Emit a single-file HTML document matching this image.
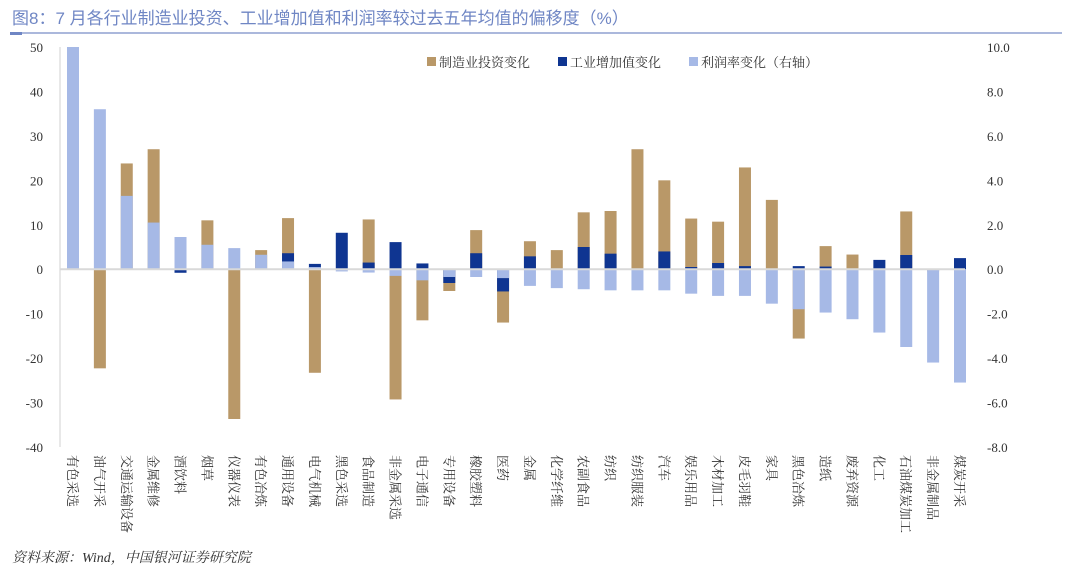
<!DOCTYPE html>
<html><head><meta charset="utf-8"><style>
body{margin:0;background:#fff;width:1080px;height:570px;overflow:hidden;font-family:"Liberation Serif","Noto Serif CJK SC",serif;}
</style></head><body>
<svg width="1080" height="570" xmlns="http://www.w3.org/2000/svg">
<text x="12" y="24" font-size="17" fill="#6f86c4" font-family="Liberation Sans, Noto Sans CJK SC, sans-serif">图8：7 月各行业制造业投资、工业增加值和利润率较过去五年均值的偏移度（%）</text>
<line x1="10" y1="33" x2="1062" y2="33" stroke="#8fa0d0" stroke-width="1.5"/>
<rect x="10" y="32" width="12" height="3" fill="#6f86c4"/>
<g id="plot"></g>
<text x="12" y="562" font-size="14" font-style="italic" fill="#333" font-family="Liberation Serif, Noto Serif CJK SC, serif">资料来源：Wind，中国银河证券研究院</text>
</svg>
<script>
const categories=["有色采选","油气开采","交通运输设备","金属维修","酒饮料","烟草","仪器仪表","有色冶炼","通用设备","电气机械","黑色采选","食品制造","非金属采选","电子通信","专用设备","橡胶塑料","医药","金属","化学纤维","农副食品","纺织","纺织服装","汽车","娱乐用品","木材加工","皮毛羽鞋","家具","黑色冶炼","造纸","废弃资源","化工","石油煤炭加工","非金属制品","煤炭开采"];
const investment=[7,-22.3,23.8,27,0,11,-33.7,4.3,11.5,-23.3,0,11.2,-29.3,-11.5,-4.9,8.8,-12,6.3,4.3,12.8,13.1,27,20,11.4,10.7,22.9,15.6,-15.6,5.2,3.3,0,13,-0.5,0];
const valueAdded=[0,0,0,0,-0.8,0,0,0,3.6,1.2,8.2,1.5,6.1,1.3,-3.1,3.6,-5,2.9,0,5,3.5,0,4,0.5,1.4,0.7,0,0.7,0.6,0,2.1,3.2,0,2.5];
const profit=[10,7.2,3.3,2.1,1.45,1.1,0.95,0.65,0.35,0.1,-0.1,-0.15,-0.3,-0.5,-0.35,-0.35,-0.4,-0.75,-0.85,-0.9,-0.95,-0.95,-0.95,-1.1,-1.2,-1.2,-1.55,-1.8,-1.95,-2.25,-2.85,-3.5,-4.2,-5.1];
const leftTicks=[50,40,30,20,10,0,-10,-20,-30,-40];
const rightTicks=["10.0","8.0","6.0","4.0","2.0","0.0","-2.0","-4.0","-6.0","-8.0"];
const NS="http://www.w3.org/2000/svg";
const g=document.getElementById('plot');
const PT=47,PB=447,L=60,R=965;
const yL=v=>PT+(50-v)*(PB-PT)/90;
const yR=v=>PT+(10-v)*(PB-PT)/18;
const xC=i=>73+i*(960-73)/(categories.length-1);
function mk(t,a){const e=document.createElementNS(NS,t);for(const k in a)e.setAttribute(k,a[k]);g.appendChild(e);return e;}
let e=mk('line',{x1:L,y1:PT,x2:L,y2:PB,stroke:'#d0d0d0'});


leftTicks.forEach(v=>{const t=mk('text',{x:43,y:yL(v)+5,'font-size':13,'text-anchor':'end',fill:'#333'});t.textContent=v;

});
rightTicks.forEach(s=>{const t=mk('text',{x:987,y:yR(parseFloat(s))+5,'font-size':13,fill:'#333'});t.textContent=s;

});
const bw=12;
function bar(x,y0,y1,c,n){const r=mk('rect',{x:x-bw/2,y:Math.min(y0,y1),width:bw,height:Math.max(Math.abs(y1-y0),0.5),fill:c});

}
categories.forEach((c,i)=>{const x=xC(i);
if(investment[i])bar(x,yL(0),yL(investment[i]),'#b99868','investment-bar');
if(valueAdded[i])bar(x,yL(0),yL(valueAdded[i]),'#0f3591','value-added-bar');
bar(x,yR(0),yR(profit[i]),'#a6b9e6','profit-bar');
const t=mk('text',{x:0,y:0,'font-size':13,fill:'#333',transform:`translate(${x-5},455) rotate(90)`});t.textContent=c;

});
e=mk('line',{x1:L,y1:yL(0),x2:R,y2:yL(0),stroke:'#d9d9d9','stroke-width':2});


[["制造业投资变化",'#b99868',427],["工业增加值变化",'#0f3591',558],["利润率变化（右轴）",'#a6b9e6',689]].forEach(([s,c,x])=>{
const r=mk('rect',{x:x,y:57,width:9,height:9,fill:c});


const t=mk('text',{x:x+12,y:67,'font-size':13,fill:'#333'});t.textContent=s;

});
</script>
</body></html>
